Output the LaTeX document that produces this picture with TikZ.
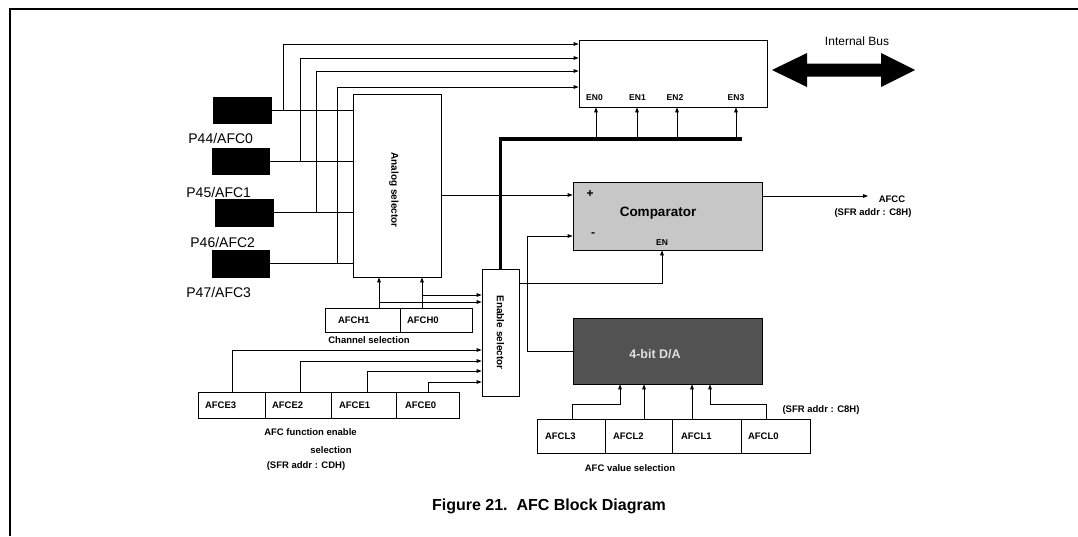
\documentclass[tikz,border=0pt]{standalone}
\usepackage{fontspec}
\setmainfont{Liberation Sans}
\usetikzlibrary{arrows.meta}
\begin{document}
\begin{tikzpicture}[x=1pt,y=-1pt,
  line width=0.8pt,
  arr/.style={-{Triangle[length=5pt,width=3.6pt]}},
  box/.style={draw, inner sep=0pt},
  pin/.style={fill=black, inner sep=0pt},
  reg/.style={draw, inner ysep=0pt, align=left, font=\bfseries\fontsize{9.5}{11}\selectfont},
  lbl/.style={font=\bfseries\fontsize{9.5}{11}\selectfont, inner sep=0pt},
  enl/.style={font=\bfseries\fontsize{8.5}{10}\selectfont, inner sep=0pt},
  pinl/.style={font=\fontsize{14}{16}\selectfont, inner sep=0pt, anchor=west}]
\useasboundingbox (0,0) rectangle (1078,536);
% frame
\draw[line width=2.2pt] (10,536) -- (10,9) -- (1078,9);

% pins
\node[pin, minimum width=59pt, minimum height=27pt] (p1) at (242.5,110.5) {};
\node[pin, minimum width=58pt, minimum height=27pt] (p2) at (241,161.5) {};
\node[pin, minimum width=59pt, minimum height=28pt] (p3) at (244.5,212.5) {};
\node[pin, minimum width=58pt, minimum height=28pt] (p4) at (241,263.5) {};
\node[pinl] (pl1) at (188,138) {P44/AFC0};
\node[pinl] (pl2) at (186,192) {P45/AFC1};
\node[pinl] (pl3) at (190,242) {P46/AFC2};
\node[pinl] (pl4) at (186,292) {P47/AFC3};

% main blocks
\node[box, minimum width=88pt, minimum height=183pt] (as) at (397,185.5) {};
\node[font=\bfseries\fontsize{10}{12}\selectfont, inner sep=0pt] (asl) at (394,190) {\rotatebox{-90}{Analog selector}};
\node[box, minimum width=188pt, minimum height=67pt] (bx) at (673,73.5) {};
\node[enl] (en0) at (594.5,98) {EN0};
\node[enl] (en1) at (637.5,98) {EN1};
\node[enl] (en2) at (675,98) {EN2};
\node[enl] (en3) at (736,98) {EN3};

\node[box, fill=black!22, minimum width=189pt, minimum height=68pt] (cmp) at (667.5,216) {};
\node[font=\bfseries\fontsize{13.5}{15}\selectfont, inner sep=0pt] (cmpl) at (658,213) {Comparator};
\node[font=\bfseries\fontsize{12}{14}\selectfont, inner sep=0pt] (plus) at (590,194) {+};
\node[font=\bfseries\fontsize{12}{14}\selectfont, inner sep=0pt] (minus) at (593,235) {-};
\node[enl] (cmpen) at (662,243) {EN};

\node[box, fill=black!68, minimum width=189pt, minimum height=66pt] (da) at (667.5,351) {};
\node[font=\bfseries\fontsize{12.5}{14}\selectfont, text=black!12, inner sep=0pt] (dal) at (655,354) {4-bit D/A};

\node[box, minimum width=37pt, minimum height=127pt, font=\bfseries\fontsize{10}{12}\selectfont] (es) at (500.5,332.5) {\rotatebox{-90}{Enable selector}};

% registers
\node[reg, inner xsep=13pt, text width=49pt, minimum height=24pt] (afch1) at (362.5,320) {AFCH1};
\node[reg, inner xsep=7pt, text width=58pt, minimum height=24pt] (afch0) at (436,320) {AFCH0};

\node[reg, inner xsep=7pt, text width=53pt, minimum height=26pt] (afce3) at (231.5,405) {AFCE3};
\node[reg, inner xsep=7pt, text width=52pt, minimum height=26pt] (afce2) at (298,405) {AFCE2};
\node[reg, inner xsep=8pt, text width=49pt, minimum height=26pt] (afce1) at (363.5,405) {AFCE1};
\node[reg, inner xsep=9pt, text width=45pt, minimum height=26pt] (afce0) at (427.5,405) {AFCE0};

\node[reg, inner xsep=8pt, text width=52pt, minimum height=34pt] (afcl3) at (571,436) {AFCL3};
\node[reg, inner xsep=8pt, text width=51pt, minimum height=34pt] (afcl2) at (638.5,436) {AFCL2};
\node[reg, inner xsep=9pt, text width=51pt, minimum height=34pt] (afcl1) at (706.5,436) {AFCL1};
\node[reg, inner xsep=7pt, text width=55pt, minimum height=34pt] (afcl0) at (775.5,436) {AFCL0};

% labels
\node[lbl] (chs) at (369,340) {Channel selection};
\node[lbl] (afs1) at (310.5,432) {AFC function enable};
\node[lbl] (afs2) at (331,450) {selection};
\node[lbl] (afs3) at (306,466) {(SFR addr : CDH)};
\node[lbl] (avs) at (630,468) {AFC value selection};
\node[lbl] (sfr1) at (821,410) {(SFR addr : C8H)};
\node[lbl] (afcc) at (892,199) {AFCC};
\node[lbl] (sfr2) at (873,213) {(SFR addr : C8H)};
\node[font=\bfseries\fontsize{16}{18}\selectfont, inner sep=0pt] (cap) at (549,506) {Figure 21.\ \ AFC Block Diagram};

% internal bus
\fill (772,70) -- (807,53) -- (807,63.5) -- (881,63.5) -- (881,53) -- (915,70)
  -- (881,87) -- (881,76.5) -- (807,76.5) -- (807,87) -- cycle;
\node[font=\fontsize{12}{14}\selectfont, inner sep=0pt] (ib) at (857,41) {Internal Bus};

% connectors: pins to analog selector
\foreach \p in {p1,p2,p3,p4} \draw (\p.east) -- (\p.east -| as.west);
% taps to top box
\draw[arr] (p1.east -| 283,0) |- (bx.west |- 0,44);
\draw[arr] (p2.east -| 300,0) |- (bx.west |- 0,58);
\draw[arr] (p3.east -| 316,0) |- (bx.west |- 0,71);
\draw[arr] (p4.east -| 337,0) |- (bx.west |- 0,87);

% thick enable bus
\coordinate (busend) at (742,139);
\draw[line width=3.5pt] (es.north) |- (busend);
\foreach \x in {596,637,677,736} \draw[arr] (\x,139) -- (bx.south -| \x,0);

% analog -> comparator +
\draw[arr] (as.east |- 0,195) -- (cmp.west |- 0,195);
% D/A -> comparator -
\draw[arr] (da.west) -| (527,236) -- (cmp.west |- 0,236);
% enable selector -> comparator EN
\draw[arr] (es.east |- 0,283) -| (cmp.south -| 662,0);
% comparator output
\coordinate (outend) at (868,196);
\draw[arr] (cmp.east |- 0,196) -- (outend);

% channel selection
\draw[arr] (afch1.north -| 379,0) -- (as.south -| 379,0);
\draw[arr] (afch0.north -| 422,0) -- (as.south -| 422,0);
\coordinate (br0) at (422,295);
\coordinate (br1) at (379,302);
\draw[arr] (br0) -- (es.west |- br0);
\draw[arr] (br1) -- (es.west |- br1);

% function enable
\draw[arr] (afce3.north -| 232,0) |- (es.west |- 0,350);
\draw[arr] (afce2.north -| 300,0) |- (es.west |- 0,361);
\draw[arr] (afce1.north -| 367,0) |- (es.west |- 0,371);
\draw[arr] (afce0.north -| 428,0) |- (es.west |- 0,382);

% value selection
\draw[arr] (afcl3.north -| 572,0) -- ++(0,-14) -| (da.south -| 620,0);
\draw[arr] (afcl2.north -| 644,0) -- (da.south -| 644,0);
\draw[arr] (afcl1.north -| 692,0) -- (da.south -| 692,0);
\draw[arr] (afcl0.north -| 766,0) -- ++(0,-14) -| (da.south -| 710,0);
\end{tikzpicture}
\end{document}
